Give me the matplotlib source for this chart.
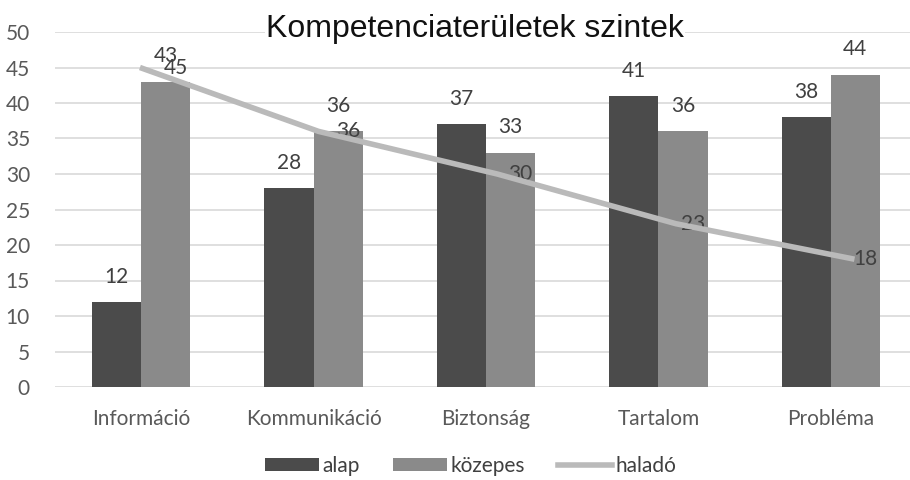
import numpy as np
import matplotlib

matplotlib.use("Agg")
import matplotlib.pyplot as plt
from matplotlib.patches import Patch
from matplotlib.lines import Line2D

categories = ["Információ", "Kommunikáció", "Biztonság", "Tartalom", "Probléma"]
alap = [12, 28, 37, 41, 38]
kozepes = [43, 36, 33, 36, 44]
halado = [45, 36, 30, 23, 18]
yticks = [0, 5, 10, 15, 20, 25, 30, 35, 40, 45, 50]

c_alap = "#4b4b4b"
c_koz = "#8a8a8a"
c_line = "#bababa"
c_text = "#404040"
font = "Lato"

fig = plt.figure(figsize=(9.1, 4.8), dpi=100, facecolor="white")
ax = fig.add_axes([55 / 910, 93 / 480, 862 / 910, 355 / 480])

x = np.arange(len(categories))
w = 0.285
b1 = ax.bar(x - w / 2, alap, w, color=c_alap, zorder=2)
b2 = ax.bar(x + w / 2, kozepes, w, color=c_koz, zorder=2)

for bars, vals in ((b1, alap), (b2, kozepes)):
    for rect, v in zip(bars, vals):
        ax.annotate(str(v), (rect.get_x() + rect.get_width() / 2, v),
                    xytext=(0, 11), textcoords="offset points",
                    ha="center", va="bottom", fontsize=15, color=c_text,
                    family=font, zorder=5)

ax.set_xlim(-0.5, 4.5)
ax.set_ylim(0, 50)
ax.set_yticks(yticks)
ax.set_xticks(x)
ax.set_xticklabels(categories, family=font, fontsize=15, color="#595959")
ax.tick_params(axis="x", length=0, pad=16)
ax.tick_params(axis="y", length=0, pad=18, labelcolor="#595959", labelsize=15)
for lab in ax.get_yticklabels():
    lab.set_family(font)
ax.grid(axis="y", color="#d9d9d9", linewidth=1.2, zorder=0)
for s in ax.spines.values():
    s.set_visible(False)

# line series sits on its own slightly wider horizontal scale
ax2 = ax.twiny()
ax2.set_xlim(-0.4755, 4.35)
ax2.set_ylim(0, 50)
ax2.plot(x, halado, color=c_line, linewidth=4, solid_capstyle="butt", zorder=3)
ax2.set_xticks([])
for s in ax2.spines.values():
    s.set_visible(False)

for i, v in enumerate(halado):
    ax.annotate(str(v), (i, v), xytext=(16, 0), textcoords="offset points",
                ha="left", va="center", fontsize=15, color=c_text,
                family=font, zorder=5)

fig.text(0.522, 0.94, "Kompetenciaterületek szintek", ha="center", va="center",
         fontsize=23, family="Liberation Sans", color="#111111",
         bbox=dict(facecolor="white", edgecolor="none", pad=1))

handles = [
    Patch(facecolor=c_alap, label="alap"),
    Patch(facecolor=c_koz, label="közepes"),
    Line2D([0], [0], color=c_line, linewidth=4, label="haladó"),
]
fig.legend(handles=handles, loc="center", bbox_to_anchor=(0.517, 0.03), ncol=3,
           frameon=False, prop={"family": font, "size": 15},
           handlelength=2.6, handleheight=0.6, handletextpad=0.15,
           columnspacing=1.6, labelcolor="#404040")

fig.savefig("out.png", dpi=100, facecolor="white")
